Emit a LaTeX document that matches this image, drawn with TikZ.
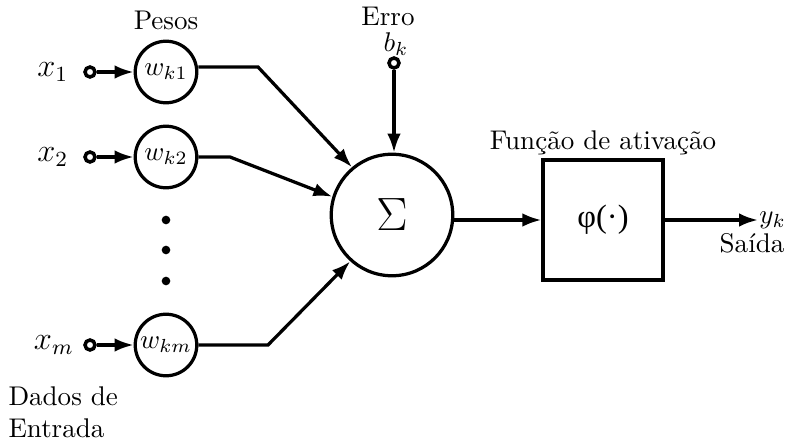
\documentclass[tikz,border=0pt]{standalone}
\usepackage{fontspec}
\newfontfamily\phifont{Liberation Serif}
\usetikzlibrary{arrows.meta}
\begin{document}
\begin{tikzpicture}[x=0.013cm,y=-0.013cm,>={Latex[length=7pt,width=5pt]},
  wcirc/.style={draw,line width=1.2pt,circle,inner sep=0pt,minimum size=0.8cm},
  pin/.style={draw,line width=1.3pt,circle,inner sep=0pt,minimum size=0.13cm,fill=white},
  conn/.style={line width=1.2pt}]
\useasboundingbox (0,0) rectangle (790,441);
% entradas e pesos
\node[pin] (x1) at (90,72) {};
\node[pin] (x2) at (90,157) {};
\node[pin] (xm) at (90,345) {};
\node[left=2pt] (lx1) at (x1.west) {\large$x_1$};
\node[left=2pt] (lx2) at (x2.west) {\large$x_2$};
\node[left=0pt] (lxm) at (xm.west) {\large$x_m$};
\node[wcirc] (w1) at (166,72) {$w_{k1}$};
\node[wcirc] (w2) at (166,157) {$w_{k2}$};
\node[wcirc] (wm) at (166,345) {$w_{km}$};
\node (pesos) at (166,20) {Pesos};
\foreach \y/\n in {220/d1,250/d2,281/d3}
  \fill (166,\y) circle (1.6pt) coordinate (\n);
% somador
\node[draw,line width=1.2pt,circle,minimum size=1.58cm] (sum) at (392,215) {\LARGE$\Sigma$};
\node[pin] (b) at (394,63) {};
\node (lb) at (396,44) {$b_k$};
\node (erro) at (388,16) {Erro};
\coordinate (c1) at (258,67);
\coordinate (c2) at (230,157);
\coordinate (cm) at (268,345);
\draw[conn,->] (x1) -- (w1);
\draw[conn,->] (x2) -- (w2);
\draw[conn,->] (xm) -- (wm);
\draw[conn,->] (w1.east |- c1) -- (c1) -- (sum.130);
\draw[conn,->] (w2) -- (c2) -- (sum.163);
\draw[conn,->] (wm) -- (cm) -- (sum.228);
\draw[conn,->] (b) -- (sum.north -| b);
% ativacao
\node[draw,line width=1.2pt,minimum width=1.56cm,minimum height=1.56cm] (phi) at (603,220) {\large\phifont φ(·)};
\node[anchor=south,inner sep=1pt] (lphi) at (phi.north) {Função de ativação};
\coordinate (out) at (758,220);
\draw[conn,->] (sum.east |- phi) -- (phi);
\draw[conn,->] (phi) -- (out);
\node[right=-3pt] (yk) at (out) {$y_k$};
\node (saida) at (752,243) {Saída};
\node[align=left,anchor=north west,inner sep=0pt] (dados) at (8,386) {Dados de\\Entrada};
\end{tikzpicture}
\end{document}
